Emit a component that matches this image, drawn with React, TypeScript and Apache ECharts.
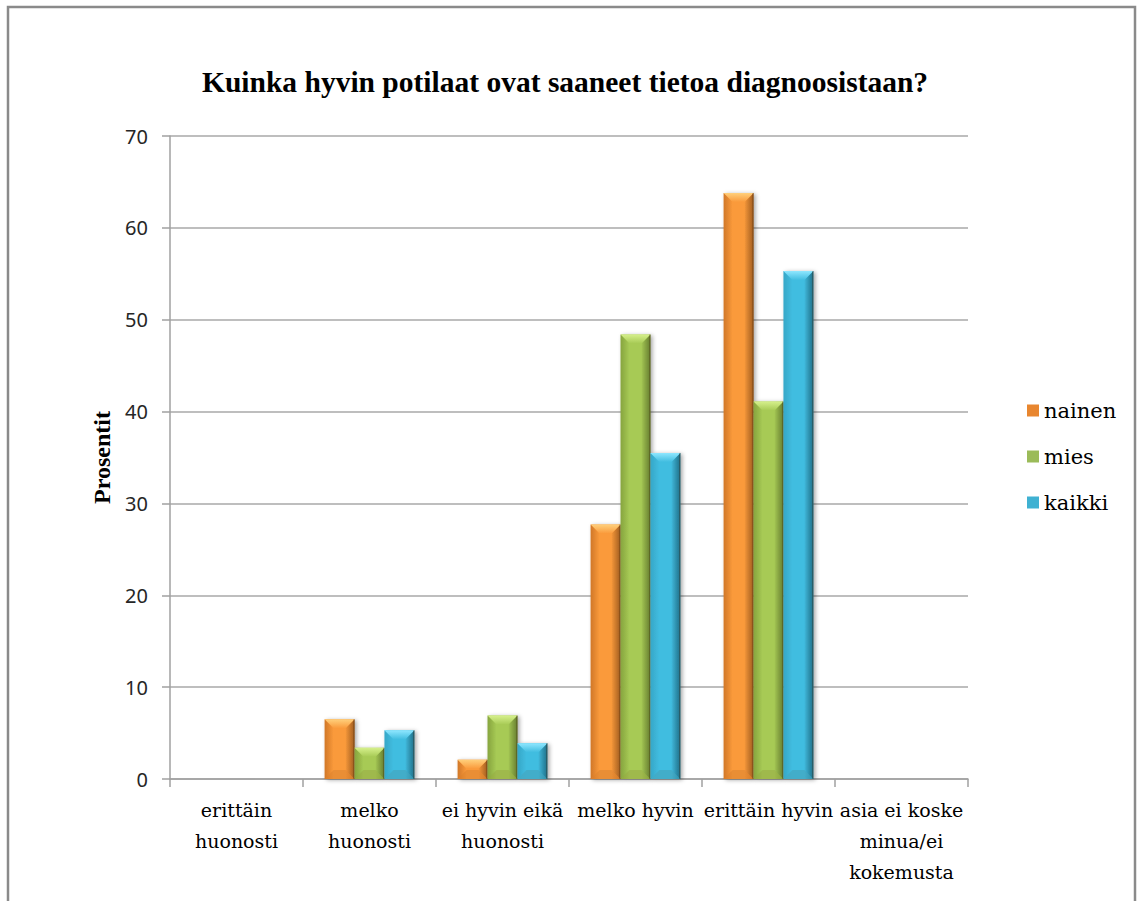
import React, { useEffect, useRef } from "react";
import * as echarts from "echarts";

const TITLE = "Kuinka hyvin potilaat ovat saaneet tietoa diagnoosistaan?";
const Y_NAME = "Prosentit";

const categories = [
  "erittäin\nhuonosti",
  "melko\nhuonosti",
  "ei hyvin eikä\nhuonosti",
  "melko hyvin",
  "erittäin hyvin",
  "asia ei koske\nminua/ei\nkokemusta",
];

const seriesNames = ["nainen", "mies", "kaikki"];
const nainen = [0, 6.5, 2.1, 27.7, 63.8, 0];
const mies = [0, 3.4, 6.9, 48.4, 41.1, 0];
const kaikki = [0, 5.3, 3.9, 35.5, 55.3, 0];

const yMin = 0;
const yMax = 70;
const yStep = 10;

const SERIF_BOLD = "Liberation Serif";
const SERIF_TEXT = "DejaVu Serif";
const SANS = "Noto Sans";

type Palette = {
  legend: string;
  edgeL: string;
  mid: string;
  edgeR: string;
  top: string;
};

const palettes: Palette[] = [
  { legend: "#E8862F", edgeL: "#E8852C", mid: "#FA9A3B", edgeR: "#E0822C", top: "#FFD07C" },
  { legend: "#9BBB59", edgeL: "#95B746", mid: "#A7CA55", edgeR: "#8FB043", top: "#D6F08C" },
  { legend: "#3FB1D2", edgeL: "#3CB9DD", mid: "#41BDE0", edgeR: "#2D9CBE", top: "#8FE7FF" },
];

// Bevelled bar: body + four chamfer facets, positioned through the axes' scales.
function bevelBar(seriesIdx: number, pal: Palette) {
  return (_params: any, api: any) => {
    const cat = api.value(0);
    const val = api.value(1);
    if (!val) return null;
    const top = api.coord([cat, val]);
    const base = api.coord([cat, 0]);
    const catW = api.size([1, 0])[0];
    const barW = catW * 0.225;
    const cx = top[0] + (seriesIdx - 1) * barW;
    const x0 = cx - barW / 2;
    const x1 = cx + barW / 2;
    const y0 = top[1];
    const y1 = base[1];
    const h = y1 - y0;
    const b = Math.min(9, h / 2, barW / 2);
    const hGrad = (stops: [number, string][]) =>
      new echarts.graphic.LinearGradient(0, 0, 1, 0, stops.map(([offset, color]) => ({ offset, color })));
    const vGrad = (stops: [number, string][]) =>
      new echarts.graphic.LinearGradient(0, 0, 0, 1, stops.map(([offset, color]) => ({ offset, color })));
    return {
      type: "group",
      children: [
        {
          type: "rect",
          shape: { x: x0, y: y0, width: barW, height: h },
          style: {
            fill: hGrad([
              [0, pal.edgeL],
              [0.3, pal.mid],
              [0.7, pal.mid],
              [1, pal.edgeR],
            ]),
            shadowBlur: 4,
            shadowOffsetX: 2,
            shadowOffsetY: 1,
            shadowColor: "rgba(0,0,0,0.35)",
          },
        },
        {
          type: "polygon",
          shape: { points: [[x0, y0], [x0, y1], [x0 + b, y1 - b], [x0 + b, y0 + b]] },
          style: { fill: hGrad([[0, "rgba(0,0,0,0.10)"], [1, "rgba(0,0,0,0)"]]) },
        },
        {
          type: "polygon",
          shape: { points: [[x1, y0], [x1, y1], [x1 - b, y1 - b], [x1 - b, y0 + b]] },
          style: { fill: hGrad([[0, "rgba(0,0,0,0.02)"], [1, "rgba(0,0,0,0.28)"]]) },
        },
        {
          type: "polygon",
          shape: { points: [[x0, y1], [x1, y1], [x1 - b, y1 - b], [x0 + b, y1 - b]] },
          style: { fill: "rgba(90,40,0,0.10)" },
        },
        {
          type: "polygon",
          shape: { points: [[x0, y0], [x1, y0], [x1 - b, y0 + b], [x0 + b, y0 + b]] },
          style: { fill: vGrad([[0, pal.top], [1, pal.mid]]) },
        },
        {
          type: "line",
          shape: { x1: x1 - 0.5, y1: y0, x2: x1 - 0.5, y2: y1 },
          style: { stroke: "rgba(60,30,0,0.45)", lineWidth: 1 },
        },
      ],
    };
  };
}

export default function App() {
  const ref = useRef<HTMLDivElement>(null);

  useEffect(() => {
    if (!ref.current) return;
    const chart = echarts.init(ref.current, null, { renderer: "svg" });
    const values = [nainen, mies, kaikki];

    chart.setOption({
      animation: false,
      backgroundColor: "#ffffff",
      title: {
        text: TITLE,
        left: 197,
        top: 62,
        textStyle: {
          fontFamily: SERIF_BOLD,
          fontWeight: "bold",
          fontSize: 29.5,
          color: "#000000",
        },
      },
      legend: {
        orient: "vertical",
        left: 1027,
        top: 400,
        padding: 0,
        icon: "rect",
        itemWidth: 12,
        itemHeight: 12,
        itemGap: 25,
        data: seriesNames,
        textStyle: {
          fontFamily: SERIF_TEXT,
          fontSize: 21,
          color: "#000000",
        },
      },
      graphic: [
        {
          type: "rect",
          silent: true,
          shape: { x: 8, y: 7, width: 1127, height: 1000 },
          style: { fill: "none", stroke: "#8a8a8a", lineWidth: 2.5 },
        },
      ],
      grid: { left: 170, right: 172, top: 136, bottom: 122 },
      xAxis: {
        type: "category",
        data: categories,
        axisLine: { lineStyle: { color: "#a0a0a0", width: 1.5 } },
        axisTick: { show: true, length: 8, lineStyle: { color: "#a0a0a0", width: 1.5 } },
        axisLabel: {
          interval: 0,
          margin: 15,
          fontFamily: SERIF_TEXT,
          fontSize: 19,
          lineHeight: 31,
          color: "#000000",
        },
      },
      yAxis: {
        type: "value",
        min: yMin,
        max: yMax,
        interval: yStep,
        name: Y_NAME,
        nameLocation: "middle",
        nameRotate: 90,
        nameGap: 56,
        nameTextStyle: {
          fontFamily: SERIF_BOLD,
          fontWeight: "bold",
          fontSize: 24,
          color: "#000000",
        },
        axisLine: { show: true, lineStyle: { color: "#a0a0a0", width: 1.5 } },
        axisTick: { show: true, length: 8, lineStyle: { color: "#a0a0a0", width: 1.5 } },
        axisLabel: {
          margin: 22,
          fontFamily: SANS,
          fontSize: 20,
          color: "#262626",
        },
        splitLine: { lineStyle: { color: "#a8a8a8", width: 1.5 } },
      },
      series: seriesNames.map((name, i) => ({
        name,
        type: "custom",
        itemStyle: { color: palettes[i].legend },
        encode: { x: 0, y: 1 },
        data: values[i].map((v, c) => [c, v]),
        renderItem: bevelBar(i, palettes[i]),
      })),
    });

    return () => chart.dispose();
  }, []);

  return (
    <div
      ref={ref}
      style={{ position: "fixed", left: 0, top: 0, width: 1140, height: 901, background: "#fff" }}
    />
  );
}
